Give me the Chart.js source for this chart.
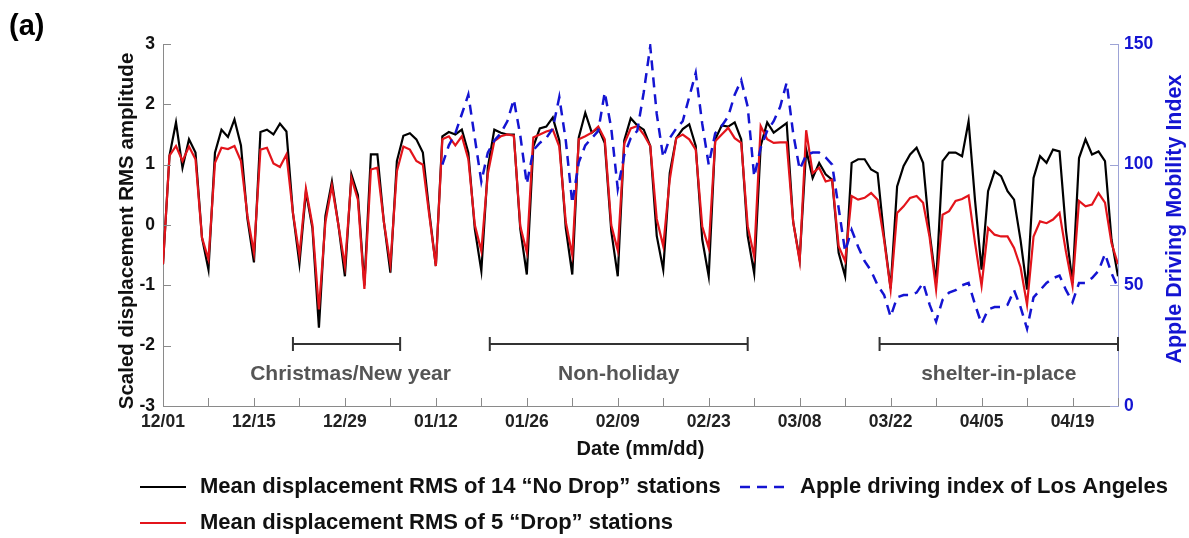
<!DOCTYPE html>
<html>
<head>
<meta charset="utf-8">
<script src="https://cdn.jsdelivr.net/npm/chart.js@4.4.0/dist/chart.umd.min.js"></script>
<style>
  html, body { margin: 0; padding: 0; background: #fff; }
  #wrap { width: 1189px; height: 538px; }
</style>
</head>
<body>
<div id="wrap"><canvas id="chart" width="1189" height="538"></canvas></div>
<script>
// ----------------------------- Data -----------------------------------------
// day 0 = 12/01/2019, one value per day
const noDropRms = [
  -0.65, 1.15, 1.70, 0.95, 1.42, 1.20, -0.21,
  -0.74, 1.20, 1.58, 1.46, 1.75, 1.32, 0.10,
  -0.62, 1.54, 1.58, 1.50, 1.68, 1.55, 0.20,
  -0.64, 0.55, -0.05, -1.70, 0.15, 0.72, 0.00,
  -0.85, 0.84, 0.50, -1.00, 1.17, 1.17, 0.05,
  -0.79, 1.06, 1.48, 1.52, 1.42, 1.20, 0.20,
  -0.68, 1.47, 1.54, 1.50, 1.58, 1.20, -0.07,
  -0.76, 0.95, 1.58, 1.53, 1.50, 1.50, -0.07,
  -0.82, 1.30, 1.60, 1.63, 1.78, 1.40, -0.05,
  -0.82, 1.45, 1.86, 1.53, 1.61, 1.36, -0.10,
  -0.85, 1.40, 1.77, 1.65, 1.58, 1.31, -0.18,
  -0.74, 0.86, 1.44, 1.59, 1.67, 1.31, -0.24,
  -0.85, 1.42, 1.65, 1.63, 1.70, 1.42, -0.18,
  -0.80, 1.31, 1.70, 1.53, 1.61, 1.69, 0.05,
  -0.57, 1.25, 0.78, 1.03, 0.84, 0.75, -0.46,
  -0.85, 1.03, 1.09, 1.09, 0.92, 0.86, -0.20,
  -1.05, 0.64, 0.98, 1.17, 1.28, 1.03, -0.13,
  -0.96, 1.06, 1.20, 1.20, 1.14, 1.72, 0.40,
  -0.74, 0.56, 0.89, 0.81, 0.56, 0.42, -0.25,
  -1.07, 0.78, 1.14, 1.03, 1.25, 1.22, -0.10,
  -0.96, 1.11, 1.42, 1.17, 1.22, 1.06, -0.24,
  -0.85
];
const dropRms = [
  -0.65, 1.15, 1.31, 1.06, 1.30, 1.09, -0.21,
  -0.57, 1.03, 1.28, 1.26, 1.31, 1.06, 0.15,
  -0.46, 1.25, 1.28, 1.02, 0.96, 1.17, 0.20,
  -0.50, 0.60, 0.00, -1.40, 0.05, 0.65, 0.00,
  -0.68, 0.78, 0.42, -1.06, 0.92, 0.95, 0.05,
  -0.65, 0.89, 1.30, 1.25, 1.06, 1.00, 0.15,
  -0.68, 1.42, 1.47, 1.32, 1.47, 1.09, 0.00,
  -0.43, 0.85, 1.39, 1.47, 1.50, 1.48, -0.02,
  -0.45, 1.45, 1.50, 1.55, 1.58, 1.30, 0.05,
  -0.50, 1.42, 1.47, 1.53, 1.63, 1.42, 0.00,
  -0.42, 1.35, 1.60, 1.64, 1.50, 1.31, 0.10,
  -0.35, 0.75, 1.44, 1.50, 1.42, 1.25, -0.02,
  -0.38, 1.39, 1.50, 1.61, 1.44, 1.36, -0.02,
  -0.52, 1.64, 1.42, 1.36, 1.37, 1.37, 0.05,
  -0.60, 1.57, 0.86, 0.95, 0.72, 0.75, -0.35,
  -0.60, 0.48, 0.42, 0.45, 0.53, 0.42, -0.25,
  -1.07, 0.20, 0.31, 0.45, 0.48, 0.37, -0.20,
  -1.07, 0.17, 0.23, 0.40, 0.43, 0.49, -0.30,
  -1.01, -0.05, -0.16, -0.19, -0.19, -0.38, -0.70,
  -1.32, -0.19, 0.06, 0.03, 0.09, 0.20, -0.45,
  -1.01, 0.40, 0.31, 0.34, 0.53, 0.37, -0.30,
  -0.65
];
// Apple driving index (LA), starts 01/13 = day 43
const appleStartDay = 43;
const appleIndex = [
  100, 108, 113, 121, 129, 111,
  93, 105, 110, 113, 118, 127, 112,
  92, 106, 109, 111, 115, 128, 110,
  84, 101, 108, 111, 114, 130, 115,
  90, 104, 111, 114, 130, 149, 121,
  103, 111, 115, 118, 128, 138, 117,
  100, 113, 116, 120, 129, 135, 124,
  95, 107, 114, 118, 124, 134, 113,
  98, 104, 105, 105, 103, 100, 82,
  64, 73, 66, 60, 56, 50, 46,
  37, 45, 46, 46, 47, 51, 42,
  35, 44, 47, 48, 50, 51, 42,
  34, 40, 41, 41, 42, 48, 41,
  32, 45, 48, 51, 53, 54, 48,
  43, 51, 51, 53, 56, 63, 55,
  49
];
const xTickLabels = ['12/01', '12/15', '12/29', '01/12', '01/26', '02/09', '02/23', '03/08', '03/22', '04/05', '04/19'];
const periodNames = ['Christmas/New year', 'Non-holiday', 'shelter-in-place'];
const periodStart = [20, 50.3, 110.3];
const periodEnd = [36.5, 90, 147];

// ----------------------------- Style ----------------------------------------
const FONT = "'Liberation Sans', Arial, Helvetica, sans-serif";
const BLUE = '#1414d2';
const RED = '#e3141b';
const AXIS_GRAY = '#8a8a8a';

Chart.defaults.font.family = FONT;
Chart.defaults.font.weight = 'bold';

const toPoints = (arr, offset) => arr.map((v, i) => ({ x: i + offset, y: v }));

// inward tick marks, axis titles, period brackets and the legend
const decorPlugin = {
  id: 'decor',
  afterDraw(chart) {
    const { ctx, chartArea: a, scales } = chart;
    const x = scales.x, yl = scales.y, yr = scales.y2;
    ctx.save();

    // inward ticks
    ctx.lineWidth = 1;
    ctx.strokeStyle = AXIS_GRAY;
    ctx.beginPath();
    x.ticks.forEach(t => {
      const px = Math.round(x.getPixelForValue(t.value)) + 0.5;
      ctx.moveTo(px, a.bottom); ctx.lineTo(px, a.bottom - 8);
    });
    yl.ticks.forEach(t => {
      const py = Math.round(yl.getPixelForValue(t.value)) + 0.5;
      ctx.moveTo(a.left, py); ctx.lineTo(a.left + 8, py);
    });
    ctx.stroke();
    ctx.strokeStyle = '#9da3d6';
    ctx.beginPath();
    yr.ticks.forEach(t => {
      const py = Math.round(yr.getPixelForValue(t.value)) + 0.5;
      ctx.moveTo(a.right, py); ctx.lineTo(a.right - 8, py);
    });
    ctx.stroke();

    // axis titles
    ctx.textAlign = 'center';
    ctx.textBaseline = 'middle';
    ctx.fillStyle = '#111';
    ctx.font = 'bold 20px ' + FONT;
    ctx.fillText('Date (mm/dd)', (a.left + a.right) / 2, 449);
    ctx.save();
    ctx.translate(127, (a.top + a.bottom) / 2 + 6);
    ctx.rotate(-Math.PI / 2);
    ctx.font = 'bold 20.5px ' + FONT;
    ctx.fillText('Scaled displacement RMS amplitude', 0, 0);
    ctx.restore();
    ctx.save();
    ctx.fillStyle = BLUE;
    ctx.font = 'bold 21.5px ' + FONT;
    ctx.translate(1175, (a.top + a.bottom) / 2 - 6);
    ctx.rotate(-Math.PI / 2);
    ctx.fillText('Apple Driving Mobility Index', 0, 0);
    ctx.restore();

    // panel label
    ctx.textAlign = 'left';
    ctx.fillStyle = '#000';
    ctx.font = 'bold 29px ' + FONT;
    ctx.fillText('(a)', 9, 27);

    // period brackets
    ctx.strokeStyle = '#333';
    ctx.lineWidth = 2;
    ctx.fillStyle = '#555';
    ctx.font = 'bold 21px ' + FONT;
    ctx.textAlign = 'center';
    const by = Math.round(yl.getPixelForValue(-1.98));
    const ty = yl.getPixelForValue(-2.47);
    periodNames.forEach((name, i) => {
      const x1 = x.getPixelForValue(periodStart[i]);
      const x2 = x.getPixelForValue(periodEnd[i]);
      ctx.beginPath();
      ctx.moveTo(x1, by); ctx.lineTo(x2, by);
      ctx.moveTo(x1, by - 7); ctx.lineTo(x1, by + 7);
      ctx.moveTo(x2, by - 7); ctx.lineTo(x2, by + 7);
      ctx.stroke();
      ctx.fillText(name, (x1 + x2) / 2 + (i === 0 ? 4 : 0), ty);
    });

    // legend
    const ds = chart.data.datasets;
    const items = [
      { d: ds[2], lx: 140, ly: 487 },
      { d: ds[0], lx: 740, ly: 487 },
      { d: ds[1], lx: 140, ly: 523 }
    ];
    ctx.font = 'bold 22px ' + FONT;
    ctx.textAlign = 'left';
    ctx.fillStyle = '#111';
    items.forEach(it => {
      ctx.strokeStyle = it.d.borderColor;
      ctx.lineWidth = it.d.borderWidth;
      ctx.setLineDash(it.d.borderDash || []);
      ctx.beginPath();
      ctx.moveTo(it.lx, it.ly); ctx.lineTo(it.lx + 46, it.ly);
      ctx.stroke();
      ctx.setLineDash([]);
      ctx.fillText(it.d.label, it.lx + 60, it.ly);
    });
    ctx.restore();
  }
};

new Chart(document.getElementById('chart'), {
  type: 'line',
  data: {
    datasets: [
      {
        label: 'Apple driving index of Los Angeles',
        data: toPoints(appleIndex, appleStartDay),
        yAxisID: 'y2',
        borderColor: BLUE,
        borderWidth: 2.5,
        borderDash: [10, 7],
        pointRadius: 0,
        tension: 0,
      },
      {
        label: 'Mean displacement RMS of 5 \u201cDrop\u201d stations',
        data: toPoints(dropRms, 0),
        yAxisID: 'y',
        borderColor: RED,
        borderWidth: 2.2,
        pointRadius: 0,
        tension: 0,
      },
      {
        label: 'Mean displacement RMS of 14 \u201cNo Drop\u201d stations',
        data: toPoints(noDropRms, 0),
        yAxisID: 'y',
        borderColor: '#000',
        borderWidth: 2.2,
        pointRadius: 0,
        tension: 0,
      },
    ],
  },
  options: {
    responsive: false,
    animation: false,
    layout: { padding: { top: 44, left: 0, right: 0, bottom: 0 } },
    plugins: { legend: { display: false }, tooltip: { enabled: false } },
    scales: {
      x: {
        type: 'linear',
        min: 0,
        max: 147,
        afterFit: s => { s.height = 132; },
        grid: { display: false, drawTicks: false },
        border: { display: true, color: AXIS_GRAY, width: 1 },
        ticks: {
          stepSize: 7,
          autoSkip: false,
          maxRotation: 0,
          padding: 6,
          color: '#222',
          font: { size: 17.5, weight: 'bold' },
          callback: v => (Math.round(v) % 14 === 0 ? xTickLabels[Math.round(v) / 14] : ''),
        },
      },
      y: {
        position: 'left',
        min: -3,
        max: 3,
        afterFit: s => { s.width = 163; },
        grid: { display: false, drawTicks: false },
        border: { display: true, color: AXIS_GRAY, width: 1 },
        ticks: { stepSize: 1, padding: 8, color: '#111', font: { size: 17.5, weight: 'bold' } },
      },
      y2: {
        position: 'right',
        min: 0,
        max: 150,
        afterFit: s => { s.width = 71; },
        grid: { display: false, drawTicks: false },
        border: { display: true, color: '#9da3d6', width: 1 },
        ticks: { stepSize: 50, padding: 6, color: BLUE, font: { size: 17.5, weight: 'bold' } },
      },
    },
  },
  plugins: [decorPlugin],
});
</script>
</body>
</html>
